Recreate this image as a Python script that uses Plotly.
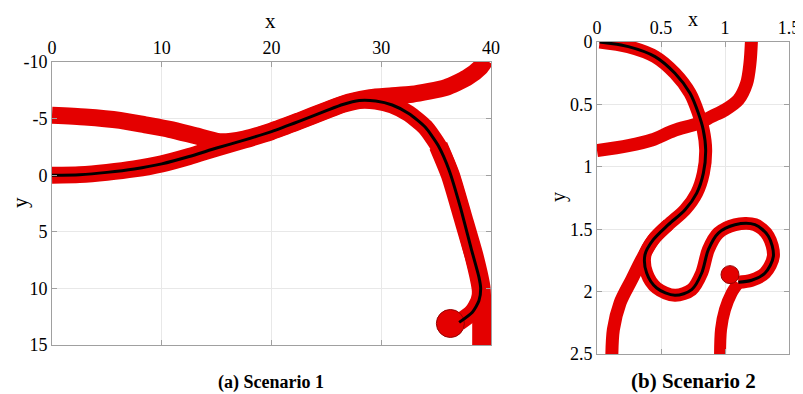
import plotly.graph_objects as go

# ---------------- Scenario 1 data ----------------
s1_path_x = [0, 2.5, 5, 7.5, 10, 12.5, 15, 17.5, 20, 22.5, 25, 26.5, 28, 29.5, 31, 32.5, 34, 35.2,
             36.2, 37.2, 38.2, 38.9, 39.06, 38.9, 38.3, 37.1]
s1_path_y = [0, -0.05, -0.25, -0.55, -1.0, -1.65, -2.4, -3.1, -3.85, -4.75, -5.7, -6.25, -6.6, -6.55,
             -6.2, -5.45, -4.25, -2.6, -0.4, 2.8, 6.5, 9.0, 10.0, 11.1, 12.1, 13.0]

s1_branch_x = [0, 3, 6.2, 8.5, 10.7, 13, 15.3, 17.5, 20, 22.5, 25, 27, 29, 30.8, 32.8, 35.9, 37.8,
               39.0, 39.5]
s1_branch_y = [-5.3, -5.15, -4.85, -4.45, -4.05, -3.5, -2.95, -3.2, -3.9, -4.8, -5.75, -6.45, -6.85,
               -7.0, -7.15, -7.75, -8.6, -9.5, -10.2]

s1_down_x = [35.2, 36.3, 37.4, 38.5, 39.1, 39.15, 39.15]
s1_down_y = [-2.6, 0.0, 3.6, 7.3, 10.0, 11.5, 15.6]

s1_end_x = [36.3]
s1_end_y = [13.1]

# ---------------- Scenario 2 data ----------------
s2_path_x = [0.02, 0.245, 0.453, 0.609, 0.727, 0.792, 0.83, 0.849, 0.831, 0.779, 0.688, 0.557, 0.44,
             0.375, 0.388, 0.466, 0.609, 0.74, 0.818, 0.87, 0.948, 1.078, 1.234, 1.339, 1.378,
             1.313, 1.208, 1.104]
s2_path_y = [0.0, 0.037, 0.117, 0.251, 0.411, 0.571, 0.704, 0.864, 1.051, 1.211, 1.344, 1.464, 1.584,
             1.704, 1.851, 1.971, 2.03, 1.984, 1.851, 1.664, 1.531, 1.464, 1.464, 1.557, 1.717,
             1.851, 1.909, 1.925]

s2_cross_x = [0.0, 0.245, 0.427, 0.6, 0.792, 0.896, 1.0, 1.104, 1.169, 1.195, 1.208]
s2_cross_y = [0.87, 0.83, 0.785, 0.71, 0.651, 0.597, 0.544, 0.464, 0.331, 0.171, -0.04]

s2_left_x = [0.115, 0.128, 0.18, 0.271, 0.349, 0.44, 0.557]
s2_left_y = [2.56, 2.304, 2.091, 1.904, 1.744, 1.584, 1.464]

s2_right_x = [0.961, 0.969, 1.0, 1.052, 1.104]
s2_right_y = [2.56, 2.304, 2.144, 2.011, 1.931]

s2_end_x = [1.039]
s2_end_y = [1.864]

# tick labels
s1_xticks = [0, 10, 20, 30, 40]
s1_yticks = [-10, -5, 0, 5, 10, 15]
s1_ytext = ["-10", "-5", "0", "5", "10", "15"]
s2_xticks = [0, 0.5, 1, 1.5]
s2_xtext = ["0", "0.5", "1", "1.5"]
s2_yticks = [0, 0.5, 1, 1.5, 2, 2.5]
s2_ytext = ["0", "0.5", "1", "1.5", "2", "2.5"]

RED = "rgb(228,0,0)"
DARKRED = "rgb(150,0,0)"
FONT = "Liberation Serif, Times New Roman, serif"

fig = go.Figure()

def band(x, y, w, xa, ya, sm=0.6):
    fig.add_trace(go.Scatter(x=x, y=y, mode="lines", xaxis=xa, yaxis=ya,
                             line=dict(color=RED, width=w, shape="spline", smoothing=sm),
                             showlegend=False, hoverinfo="skip"))

def path(x, y, xa, ya, sm=0.6):
    fig.add_trace(go.Scatter(x=x, y=y, mode="lines", xaxis=xa, yaxis=ya,
                             line=dict(color="black", width=3, shape="spline", smoothing=sm),
                             showlegend=False, hoverinfo="skip"))

def blob(x, y, s, xa, ya):
    fig.add_trace(go.Scatter(x=x, y=y, mode="markers", xaxis=xa, yaxis=ya,
                             marker=dict(color=RED, size=s, line=dict(color=DARKRED, width=1)),
                             showlegend=False, hoverinfo="skip"))

# Scenario 1
band(s1_branch_x, s1_branch_y, 17, "x", "y")
band(s1_down_x, s1_down_y, 19, "x", "y")
band(s1_path_x, s1_path_y, 17, "x", "y")
blob(s1_end_x, s1_end_y, 28, "x", "y")
path(s1_path_x, s1_path_y, "x", "y")

# Scenario 2
band(s2_cross_x, s2_cross_y, 13, "x2", "y2", 0.9)
band(s2_left_x, s2_left_y, 13, "x2", "y2", 0.9)
band(s2_right_x, s2_right_y, 12, "x2", "y2", 0.9)
band(s2_path_x, s2_path_y, 13, "x2", "y2", 0.9)
blob(s2_end_x, s2_end_y, 18, "x2", "y2")
path(s2_path_x, s2_path_y, "x2", "y2", 0.9)

# the page places the figure 8 px from the window's top-left corner
OFF = 8
W, H = 803 - OFF, 394 - OFF

def px(v):
    return (v - OFF) / W

def py(v):
    return 1 - (v - OFF) / H

axis_common = dict(showline=True, linecolor="#a0a0a0", linewidth=1, mirror="ticks",
                   ticks="inside", ticklen=5, tickcolor="#a0a0a0", automargin=False,
                   showgrid=True, gridcolor="#e8e8e8", gridwidth=1, zeroline=False,
                   tickfont=dict(family=FONT, size=18, color="black"))

fig.update_layout(
    width=W, height=H,
    margin=dict(l=0, r=0, t=0, b=0),
    paper_bgcolor="white", plot_bgcolor="white",
    font=dict(family=FONT),
    xaxis=dict(domain=[px(52), px(491)], range=[0, 40], side="top", tickvals=s1_xticks,
               anchor="y", **axis_common),
    yaxis=dict(domain=[py(345), py(62)], range=[15, -10], tickvals=s1_yticks,
               ticktext=s1_ytext, anchor="x", **axis_common),
    xaxis2=dict(domain=[px(597), px(789)], range=[0, 1.5], side="top", tickvals=s2_xticks,
                ticktext=s2_xtext, anchor="y2", **axis_common),
    yaxis2=dict(domain=[py(354), py(42)], range=[2.5, 0], tickvals=s2_yticks,
                ticktext=s2_ytext, anchor="x2", **axis_common),
    annotations=[
        dict(text="x", x=px(270), y=py(21), xref="paper", yref="paper", showarrow=False,
             font=dict(family=FONT, size=21, color="black"), xanchor="center", yanchor="middle"),
        dict(text="y", x=px(20), y=py(203), xref="paper", yref="paper", showarrow=False,
             textangle=-90, font=dict(family=FONT, size=21, color="black"),
             xanchor="center", yanchor="middle"),
        dict(text="x", x=px(693), y=py(19), xref="paper", yref="paper", showarrow=False,
             font=dict(family=FONT, size=20, color="black"), xanchor="center", yanchor="middle"),
        dict(text="y", x=px(558), y=py(197), xref="paper", yref="paper", showarrow=False,
             textangle=-90, font=dict(family=FONT, size=20, color="black"),
             xanchor="center", yanchor="middle"),
        dict(text="<b>(a) Scenario 1</b>", x=px(271), y=py(382), xref="paper", yref="paper",
             showarrow=False, font=dict(family=FONT, size=18, color="black"),
             xanchor="center", yanchor="middle"),
        dict(text="<b>(b) Scenario 2</b>", x=px(693), y=py(381), xref="paper", yref="paper",
             showarrow=False, font=dict(family=FONT, size=21, color="black"),
             xanchor="center", yanchor="middle"),
    ],
)

fig.write_html("out.html")
